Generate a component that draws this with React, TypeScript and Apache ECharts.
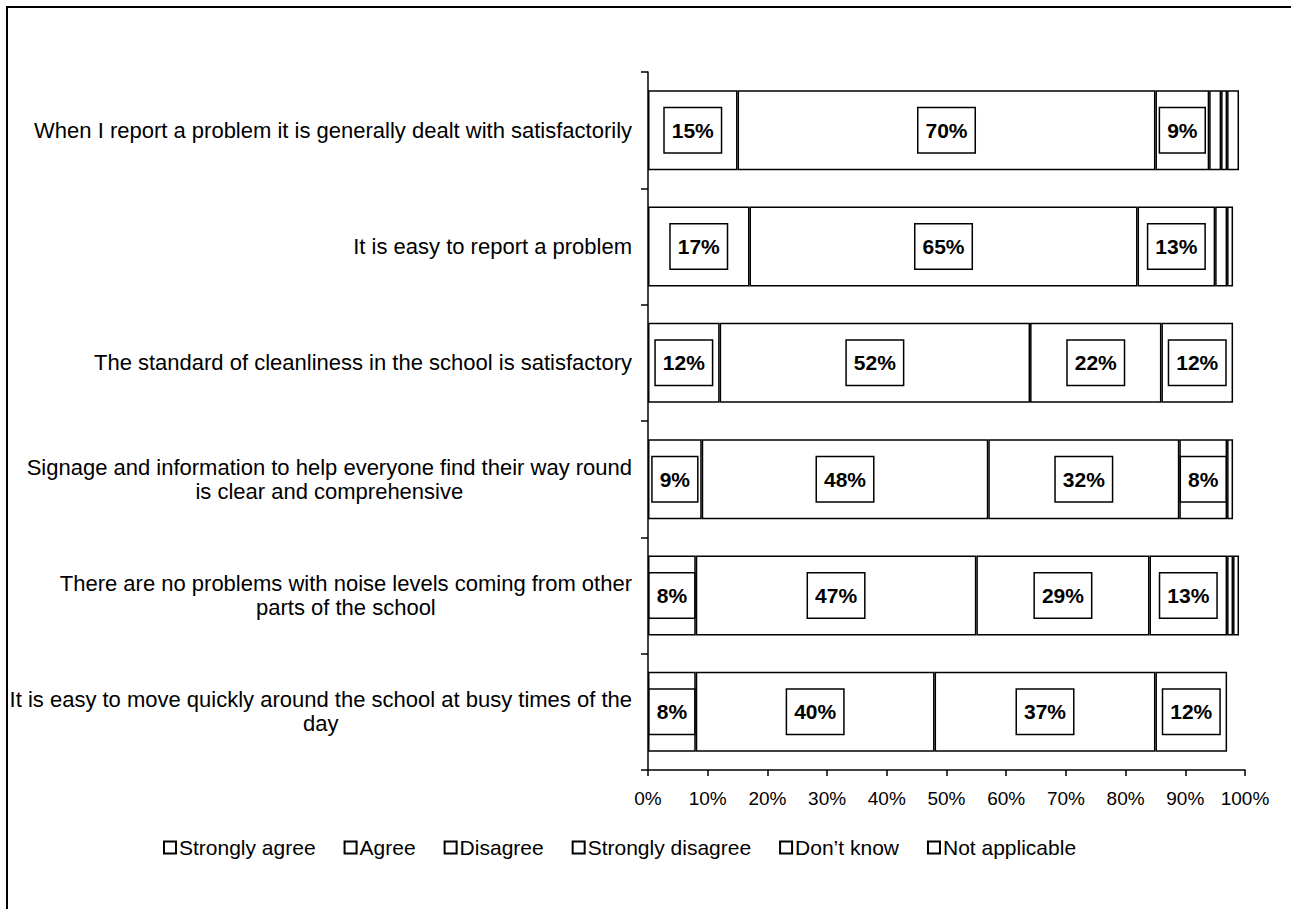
import React, { useEffect, useRef } from "react";
import * as echarts from "echarts";

const categories = [
  "When I report a problem it is generally dealt with satisfactorily",
  "It is easy to report a problem",
  "The standard of cleanliness in the school is satisfactory",
  "Signage and information to help everyone find their way round\nis clear and comprehensive",
  "There are no problems with noise levels coming from other\nparts of the school",
  "It is easy to move quickly around the school at busy times of the\nday",
];

const seriesNames = [
  "Strongly agree",
  "Agree",
  "Disagree",
  "Strongly disagree",
  "Don\u2019t know",
  "Not applicable",
];

const stronglyAgree = [15, 17, 12, 9, 8, 8];
const agree = [70, 65, 52, 48, 47, 40];
const disagree = [9, 13, 22, 32, 29, 37];
const stronglyDisagree = [2, 2, 12, 8, 13, 12];
const dontKnow = [1, 1, 0, 1, 1, 0];
const notApplicable = [2, 0, 0, 0, 1, 0];

const seriesValues = [stronglyAgree, agree, disagree, stronglyDisagree, dontKnow, notApplicable];

const FONT = "'Liberation Sans', Arial, sans-serif";

export default function App() {
  const ref = useRef<HTMLDivElement>(null);
  useEffect(() => {
    if (!ref.current) return;
    const chart = echarts.init(ref.current, undefined, { renderer: "svg" });
    const series = seriesNames.map((name, si) => ({
      name,
      type: "bar",
      stack: "total",
      barWidth: 80,
      itemStyle: { color: "#ffffff", borderColor: "#000000", borderWidth: 1.5 },
      label: {
        show: true,
        position: "inside",
        formatter: "{c}%",
        color: "#000",
        fontFamily: FONT,
        fontWeight: "bold",
        fontSize: 21,
        lineHeight: 21,
        backgroundColor: "#ffffff",
        borderColor: "#000000",
        borderWidth: 1.5,
        padding: [12, 7, 11, 7],
      },
      data: seriesValues[si].map((v) =>
        v === 0 ? null : { value: v, label: { show: v >= 5 } }
      ),
    }));
    chart.setOption({
      animation: false,
      textStyle: { fontFamily: FONT },
      grid: { left: 648, right: 46, top: 72, bottom: 139, containLabel: false },
      xAxis: {
        type: "value",
        min: 0,
        max: 100,
        interval: 10,
        axisLine: { show: true, lineStyle: { color: "#000", width: 1.5 } },
        axisTick: { show: true, length: 6, lineStyle: { color: "#000", width: 1.5 } },
        splitLine: { show: false },
        axisLabel: {
          formatter: "{value}%",
          color: "#000",
          fontSize: 19,
          fontFamily: FONT,
          margin: 19,
        },
      },
      yAxis: {
        type: "category",
        inverse: true,
        data: categories,
        axisLine: { show: true, lineStyle: { color: "#000", width: 1.5 } },
        axisTick: { show: true, length: 7, lineStyle: { color: "#000", width: 1.5 } },
        axisLabel: {
          color: "#000",
          fontSize: 22,
          fontFamily: FONT,
          margin: 16,
          lineHeight: 24,
          formatter: (val: string) =>
            val
              .split("\n")
              .map((l) => "{c|" + l + "}")
              .join("\n"),
          rich: {
            c: { align: "center", fontSize: 22, fontFamily: FONT, color: "#000", lineHeight: 24 },
          },
        },
      },
      legend: {
        left: 158,
        top: 832,
        itemWidth: 12,
        itemHeight: 12,
        itemGap: 28,
        icon: "rect",
        textStyle: { fontSize: 21, fontFamily: FONT, color: "#000", padding: [0, 0, 0, -2] },
        data: seriesNames,
      },
      graphic: [
        {
          type: "polyline",
          shape: { points: [[7, 909], [7, 7], [1291, 7]] },
          style: { stroke: "#000", lineWidth: 2, fill: "none" },
          silent: true,
        },
      ],
      series,
    });
    return () => chart.dispose();
  }, []);
  return (
    <div
      ref={ref}
      style={{ position: "absolute", left: 0, top: 0, width: 1291, height: 909, background: "#fff" }}
    />
  );
}
